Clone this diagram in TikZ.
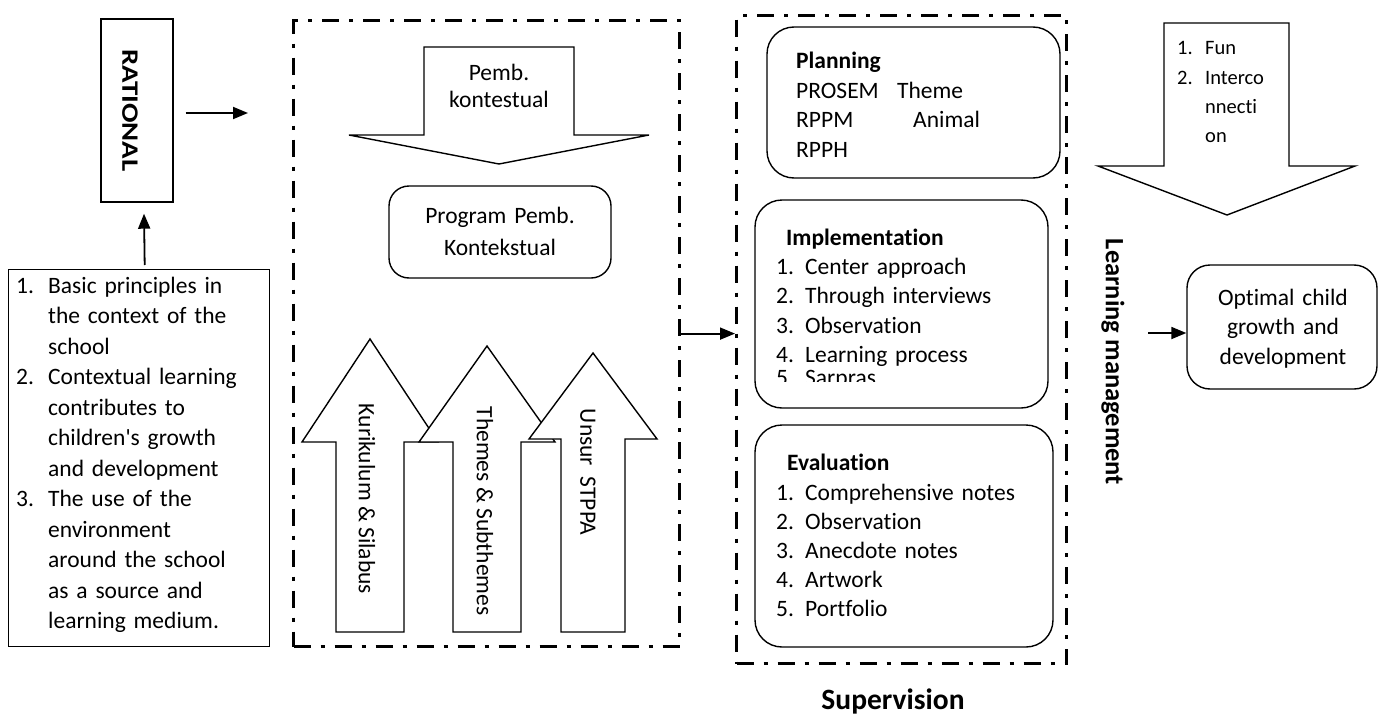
\documentclass[tikz,border=0pt]{standalone}
\usepackage{graphicx}
\usepackage{fontspec}
\setmainfont{Carlito}[Ligatures={NoCommon}]
\usetikzlibrary{arrows.meta}
\newcommand\Lnum[2]{\makebox[#1][l]{#2.}}
\begin{document}
\begin{tikzpicture}[x=1pt,y=-1pt,
  ln/.style={line width=1.4pt},
  ddbox/.style={draw, line width=3.2pt, dash pattern=on 17pt off 10pt on 4pt off 10pt, inner sep=0pt},
  arr/.style={line width=1.8pt, -{Triangle[length=15pt,width=12pt]}},
  rbox/.style={draw, line width=1.4pt, rounded corners=27pt, inner sep=0pt},
  sbox/.style={draw, line width=1.4pt, inner sep=0pt},
  blk/.style={draw, line width=1.4pt, fill=white, line join=miter},
  txt/.style={inner sep=0pt, font=\fontsize{23.5}{29.5}\selectfont},
  lst/.style={txt, anchor=base west, text width=320pt, align=left},
  ctr/.style={txt, anchor=base, text width=260pt, align=center},
  vtxt/.style={txt, rotate=-90, anchor=center},
  bold/.style={inner sep=0pt, font=\bfseries\fontsize{#1}{#1}\selectfont}
]
\useasboundingbox (0,0) rectangle (1383,717);

% ---------- left column ----------
\node[sbox, ln, minimum width=72pt, minimum height=183pt] (rat) at (137,110.5) {};
\node[bold=23.5, rotate=-90] (ratT) at (130,110.5) {\scalebox{1.23}[1]{RATIONAL}};

\node[sbox, minimum width=261pt, minimum height=377pt, anchor=north west] (ctx) at (8,269) {};
\node[lst, font=\fontsize{23.5}{30.5}\selectfont] (ctxT) at (16,293) {%
\Lnum{32pt}{1}Basic principles in\\
\hspace*{32pt}the context of the\\
\hspace*{32pt}school\\
\Lnum{32pt}{2}Contextual learning\\
\hspace*{32pt}contributes to\\
\hspace*{32pt}children\textquotesingle s growth\\
\hspace*{32pt}and development\\
\Lnum{32pt}{3}The use of the\\
\hspace*{32pt}environment\\
\hspace*{32pt}around the school\\
\hspace*{32pt}as a source and\\
\hspace*{32pt}learning medium.};

\draw[arr] ([xshift=5.5pt,yshift=4pt]ctx.north) -- ([xshift=7pt,yshift=-11pt]rat.south);
\coordinate (r1) at (248,113);
\draw[arr] ([xshift=12pt,yshift=-2.5pt]rat.east) -- (r1);

% ---------- middle dashed box ----------
\node[ddbox, minimum width=386pt, minimum height=626pt, anchor=north west] (mid) at (292,19) {};

\draw[blk] (424,47) -- (574,47) -- (574,135) -- (649,135) -- (499,164) -- (349,135) -- (424,135) -- cycle;
\node[ctr] (pk) at (499,80) {Pemb.\\[-1.5pt]kontestual};

\node[rbox, rounded corners=20pt, minimum width=222pt, minimum height=92pt] (prog) at (500,232) {};
\node[ctr, font=\fontsize{23.5}{32}\selectfont] (progT) at (500,223) {Program Pemb.\\Kontekstual};

\draw[blk] (336,632) -- (336,442) -- (302,442) -- (370,339) -- (438,442) -- (404,442) -- (404,632) -- cycle;
\draw[blk] (453,632) -- (453,442) -- (419,442) -- (487,346) -- (555,442) -- (521,442) -- (521,632) -- cycle;
\draw[blk] (561,632) -- (561,439) -- (529,439) -- (593,353) -- (657,439) -- (625,439) -- (625,632) -- cycle;
\node[vtxt] (kur) at (367,499) {Kurikulum \& Silabus};
\node[vtxt] (thm) at (485,511) {Themes \& Subthemes};
\node[vtxt] (uns) at (588,472) {Unsur\ \ STPPA};

% ---------- supervision box ----------
\node[ddbox, minimum width=330pt, minimum height=648pt, anchor=north west] (sup) at (735,14) {};
\draw[arr] (mid.east) -- (mid.east -| sup.west);

\node[rbox, minimum width=293pt, minimum height=151pt] (plan) at (913.5,102.5) {};
\node[lst] (planH) at (796,68) {\textbf{Planning}};
\node[lst] (planT) at (796,98) {%
\makebox[101pt][l]{PROSEM}Theme\\
\makebox[117pt][l]{RPPM}Animal\\
RPPH};

\node[rbox, minimum width=293pt, minimum height=208pt] (impl) at (901.5,304) {};
\node[lst] (implH) at (786,245) {\textbf{Implementation}};
\node[lst] (implT) at (776,274) {%
\Lnum{29pt}{1}Center approach\\
\Lnum{29pt}{2}Through interviews\\
\Lnum{29pt}{3}Observation\\
\Lnum{29pt}{4}Learning process};
\begin{scope}
\clip (745,360) rectangle (1040,381);
\node[lst] (implT5) at (776,385) {\Lnum{29pt}{5}Sarpras};
\end{scope}

\node[rbox, minimum width=298pt, minimum height=222pt] (eval) at (904,536) {};
\node[lst] (evalH) at (787,470) {\textbf{Evaluation}};
\node[lst, font=\fontsize{23.5}{29.2}\selectfont] (evalT) at (776,500) {%
\Lnum{29pt}{1}Comprehensive notes\\
\Lnum{29pt}{2}Observation\\
\Lnum{29pt}{3}Anecdote notes\\
\Lnum{29pt}{4}Artwork\\
\Lnum{29pt}{5}Portfolio};

\node[bold=29.5, anchor=base] (supT) at (893,709) {Supervision};

% ---------- right column ----------
\draw[blk] (1164,23) -- (1289,23) -- (1289,166) -- (1355,166) -- (1227,215) -- (1098,166) -- (1164,166) -- cycle;
\node[lst, font=\fontsize{20.5}{29.3}\selectfont] (funT) at (1177,55) {%
\Lnum{28pt}{1}Fun\\
\Lnum{28pt}{2}Interco\\
\hspace*{28pt}nnecti\\
\hspace*{28pt}on};

\node[bold=26.5, rotate=-90] (lm) at (1113,362) {Learning management};

\node[rbox, rounded corners=23pt, minimum width=190pt, minimum height=124pt] (opt) at (1282,327) {};
\node[ctr, font=\fontsize{23.5}{29.5}\selectfont] (optT) at (1283,305) {Optimal child\\growth and\\development};
\coordinate (lm1) at (1148,333);
\draw[arr] (lm1) -- (lm1 -| opt.west);
\end{tikzpicture}
\end{document}
